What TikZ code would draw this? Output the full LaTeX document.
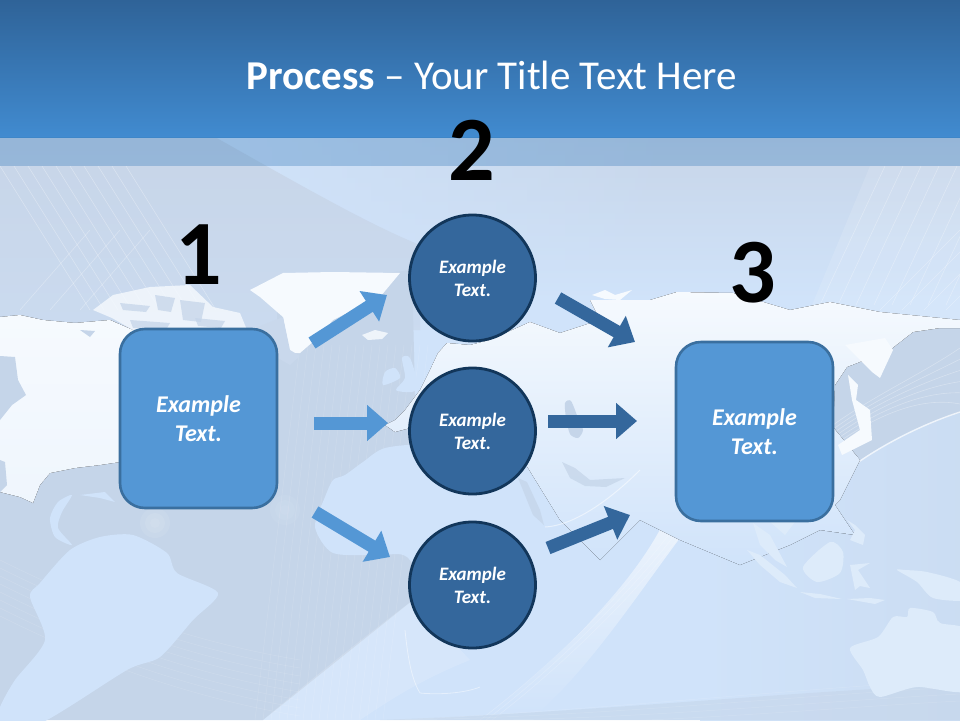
\documentclass[tikz,border=0pt]{standalone}
\usepackage{fontspec}
\setmainfont{Carlito}
\usetikzlibrary{arrows.meta,fadings}
\definecolor{headtop}{HTML}{2F6398}
\definecolor{headbot}{HTML}{418BD0}
\definecolor{boxfill}{HTML}{5497D5}
\definecolor{boxline}{HTML}{3A6F9F}
\definecolor{circfill}{HTML}{34679C}
\definecolor{circline}{HTML}{12365A}
\definecolor{sea}{HTML}{C5D5E9}
\definecolor{seaup}{HTML}{C7D5E8}
\definecolor{bgl}{HTML}{D0E3FA}
\definecolor{landb}{HTML}{D0E3FA}
\definecolor{landw}{HTML}{F6FAFE}
\definecolor{isl}{HTML}{DDEBFA}
\tikzset{
  boxnode/.style={draw=boxline,line width=2.6pt,fill=boxfill,rounded corners=25pt,minimum width=157pt,minimum height=179pt,inner sep=0pt,text=white,align=center,font=\fontsize{24}{29}\selectfont\bfseries\itshape},
  circnode/.style={draw=circline,line width=2.8pt,fill=circfill,circle,minimum size=126pt,inner sep=0pt,text=white,align=center,font=\fontsize{19}{23}\selectfont\bfseries\itshape},
  numnode/.style={text=black,inner sep=0pt,font=\fontsize{92}{92}\selectfont\bfseries},
  arrowlight/.style={draw=boxfill,line width=13pt,-{Triangle[length=21pt,width=35pt]}},
  arrowdark/.style={draw=circfill,line width=13pt,-{Triangle[length=21pt,width=35pt]}},
  ray/.style={draw=white,line width=0.6pt,opacity=0.3},
  fray/.style={draw=white,line width=0.5pt,opacity=0.14},
  inlet/.style={fill=sea},
  land/.style={smooth cycle,tension=0.45}
}
\begin{document}
\begin{tikzpicture}[x=1pt,y=-1pt]
\useasboundingbox (0,0) rectangle (960,720);
% background
\fill[bgl] (0,0) rectangle (960,720);
\shade[left color=bgl,right color=bgl!55!sea] (700,400) rectangle (960,720);
\shade[top color=seaup,bottom color=bgl] (215,137) rectangle (960,300);
\fill[bgl,path fading=east] (215,137) rectangle (680,300);
\shade[top color=seaup,bottom color=seaup!60!bgl] (0,137) -- (215,137) .. controls (300,185) and (370,225) .. (420,245) -- (420,330) -- (0,330) -- cycle;
\foreach \k in {0,14,...,126}{\draw[ray] (\k,166) -- (\k+90,310);}
\foreach \k in {0,30,60}{\draw[ray] (\k+20,310) -- (\k+90,230);}
\fill[white,opacity=.12] (810,310) -- (870,166) -- (960,166) -- (960,320) -- cycle;
\foreach \k in {0,18,...,126}{\draw[ray] (\k+820,305) -- (\k+885,166);}
\foreach \k in {0,22,...,66}{\draw[ray] (\k+880,310) -- (960,\k+230);}
% lower and Atlantic sea
\fill[sea] (0,440) -- (277,440) -- (277,285) -- (412,270) -- (420,600) -- (413,600) -- (263,720) -- (0,720) -- cycle;
\foreach \k in {0,8,...,128}{\draw[fray] (300+\k,345) -- (255+\k,720);}
\foreach \k in {0,8,...,56}{\draw[fray] (0,560+\k) .. controls (80,600+\k) and (180,640+\k) .. (300,660+\k);}
% east-Asia seas
\fill[sea] (833,340) -- (960,325) -- (960,412) .. controls (915,425) and (870,450) .. (833,480) -- cycle;
\foreach \k in {0,14,...,70}{\draw[ray] (833,425+\k*0.3) .. controls (875,395+\k*0.3) and (920,375+\k*0.3) .. (960,348+\k*0.8);}
\draw[white,line width=1.4pt,opacity=.7] (835,480) .. controls (870,450) and (920,425) .. (960,412);
% swooshes
\fill[white,opacity=0.6,path fading=south] (692,522) -- (664,522) .. controls (640,570) and (600,610) .. (590,622) .. controls (560,655) and (520,690) .. (478,720) -- (530,720) .. controls (590,670) and (640,590) .. (692,522) -- cycle;
\foreach \k in {0,6,12}{\draw[ray,opacity=.2] (480+\k,720) .. controls (540+\k,675) and (630+\k,590) .. (678+\k,522);}
\fill[white,opacity=.14] (413,600) .. controls (360,640) and (310,680) .. (263,720) -- (360,720) .. controls (390,700) and (420,680) .. (470,660) -- cycle;
\fill[sea,opacity=.55] (380,720) .. controls (600,712) and (800,690) .. (960,685) -- (960,720) -- cycle;
\foreach \k in {0,7,14,21}{\draw[fray] (400,720) .. controls (600,710+\k) and (800,688+\k) .. (960,680+\k);}
% North America
\fill[top color=landw,bottom color=landw!82!landb] (0,317) -- (20,315) -- (43,320) -- (75,323) -- (110,320) -- (133,330) -- (245,330) -- (255,345) -- (270,360) -- (270,470) -- (120,462) -- (100,465) -- (75,468) -- (50,473) -- (40,485) -- (33,503) -- (20,497) -- (0,492) -- cycle;
\fill[sea] (0,356) -- (15,357) -- (18,380) -- (26,395) -- (12,405) -- (0,420) -- cycle;
\fill[sea] (0,460) -- (5,462) -- (7,485) -- (0,492) -- cycle;
\fill[bgl] plot[land] coordinates {(58,502) (72,495) (62,512) (58,528) (72,545) (55,537) (50,518)};
\fill[bgl] (80,495) -- (105,492) -- (115,502) -- (100,498) -- cycle;
\fill[landw,opacity=.8] (93,310) -- (113,295) -- (150,287) -- (190,285) -- (213,307) -- (240,313) -- (247,330) -- (133,330) -- (112,318) -- cycle;
\foreach \a/\b/\c/\d in {120/303/150/312,155/295/175/312,180/300/205/322,130/320/170/330,195/318/225/328}{\fill[inlet,opacity=.75] (\a,\b) -- (\c,\b+3) -- (\c-4,\d) -- (\a+3,\d-2) -- cycle;}
\fill[landw] (250,290) -- (283,273) -- (333,272) -- (400,273) -- (380,297) -- (333,320) -- (315,340) -- (300,353) -- (290,353) -- (283,317) -- (260,297) -- cycle;
\fill[seaup!80!bgl] (250,330) -- (283,317) -- (290,350) -- (300,356) -- (290,365) -- (255,345) -- cycle;
\fill[landw,opacity=.85] (362,335) -- (375,330) -- (388,333) -- (382,339) -- (368,340) -- cycle;
\fill[sea] (80,330) -- (95,331) -- (90,337) -- cycle;
% South America
\fill[landb] plot[land] coordinates {(100,537) (70,550) (40,583) (30,597) (45,640) (15,680) (0,707) (-5,730) (43,722) (127,670) (160,657) (193,620) (218,593) (177,573) (167,553) (133,535)};
% Eurasia
\fill[top color=landw,bottom color=landb] (590,300) -- (650,300) -- (677,292) -- (733,293) -- (790,310) -- (830,302) -- (880,312) -- (940,318) -- (960,320) -- (960,328) -- (940,328) -- (913,332) -- (890,350) -- (883,352) -- (870,358) -- (847,367) -- (835,385) -- (833,427) -- (860,460) -- (840,500) -- (835,505) -- (855,535) -- (820,530) -- (790,545) -- (740,565) -- (680,540) -- (640,520) -- (600,560) -- (560,520) -- (520,455) -- (480,440) -- (410,428) -- (395,432) -- (385,425) -- (395,420) -- (405,410) -- (420,390) -- (430,370) -- (438,353) -- (447,343) -- (470,345) -- (490,340) -- (530,322) -- (560,333) -- (600,320) -- cycle;
% UK
\fill[landb] plot[land] coordinates {(385,372) (395,368) (400,378) (383,385)};
\fill[landb] plot[land] coordinates {(402,358) (410,358) (418,385) (412,392) (396,390) (405,378)};
% Africa
\fill[landb] plot[land] coordinates {(363,462) (345,475) (333,480) (325,497) (315,527) (333,553) (380,555) (407,557) (440,600) (480,560) (520,520) (500,460) (430,445) (385,448)};
\draw[white,opacity=.45,line width=.8pt] (405,630) .. controls (408,660) and (412,680) .. (420,693) .. controls (440,695) and (465,693) .. (480,687);
% inland seas and gulfs
\fill[sea] plot[land] coordinates {(565,403) (571,401) (578,418) (583,430) (578,438) (570,434) (566,418)};
\fill[sea,opacity=.75] (562,462) -- (575,468) -- (590,480) -- (625,478) -- (606,487) -- (585,486) -- (570,478) -- cycle;
\fill[sea,opacity=.75] (518,478) -- (527,482) -- (540,510) -- (544,525) -- (533,515) -- cycle;
\draw[white,opacity=.5,line width=1pt] (545,527) .. controls (580,525) and (620,490) .. (640,470);
% East Asia
\fill[landw] (592,295) -- (605,290) -- (615,295) -- (632,290) -- (620,300) -- (605,299) -- cycle;
\fill[landw] (845,345) -- (885,338) -- (893,350) -- (880,378) -- (872,372) -- cycle;
\fill[landw] (848,375) -- (858,385) -- (856,400) -- (870,410) -- (872,440) -- (842,455) -- (838,445) -- (860,430) -- (852,400) -- cycle;
\fill[isl] (747,550) -- (760,555) -- (785,575) -- (797,588) -- (780,582) -- (760,565) -- cycle;
\fill[isl] (753,523) -- (770,535) -- (787,567) -- (775,560) -- (760,545) -- cycle;
\fill[isl] (770,522) -- (795,522) -- (785,535) -- cycle;
\fill[isl] plot[land] coordinates {(803,567) (830,542) (843,552) (840,573) (817,582)};
\fill[isl] (800,592) -- (820,594) -- (842,599) -- (815,598) -- cycle;
\fill[isl] (847,599) -- (870,598) -- (885,600) -- (875,604) -- cycle;
\fill[isl] (847,520) -- (855,525) -- (865,535) -- (863,545) -- (850,540) -- (855,530) -- cycle;
\fill[isl] (850,565) -- (870,563) -- (858,570) -- (870,588) -- (860,586) -- (855,590) -- cycle;
\fill[isl] plot[land] coordinates {(897,570) (905,570) (927,572) (960,582) (965,600) (933,598) (917,582)};
\fill[isl] plot[land] coordinates {(850,648) (878,637) (893,617) (907,617) (910,608) (933,612) (940,623) (970,632) (970,690) (917,687) (880,697) (870,687) (863,670)};
% glows
\foreach \r in {5,10,15}{\fill[white,opacity=0.08] (155,523) circle (\r); \fill[white,opacity=0.05] (285,510) circle (\r);}
% header
\shade[top color=headtop,bottom color=headbot] (0,0) rectangle (960,137);
\fill[headbot!90!black,opacity=0.34] (0,137) rectangle (960,166);
\node[text=white,inner sep=0pt,font=\fontsize{41}{44}\selectfont] (title) at (492,75) {\textbf{Process} – Your Title Text Here};
% nodes
\node[boxnode] (box1) at (198.5,418.5) {Example\\Text.};
\node[boxnode] (box3) at (754.5,431.5) {Example\\Text.};
\node[circnode] (circ1) at (472.5,278) {Example\\Text.};
\node[circnode] (circ2) at (472.5,431) {Example\\Text.};
\node[circnode] (circ3) at (472.5,585) {Example\\Text.};
\node[numnode] (num1) at (199,255) {1};
\node[numnode] (num2) at (472,150) {2};
\node[numnode] (num3) at (753,273) {3};
% connector ends
\coordinate (a1s) at (312,343);
\coordinate (a1e) at (387,295);
\coordinate (a2s) at (314,423);
\coordinate (a2e) at (388,423);
\coordinate (a3s) at (315,512);
\coordinate (a3e) at (390,557);
\coordinate (b1s) at (558,298);
\coordinate (b1e) at (635,342);
\coordinate (b2s) at (548,421);
\coordinate (b2e) at (637,421);
\coordinate (b3s) at (548,548);
\coordinate (b3e) at (630,515);
\draw[arrowlight] (a1s) -- (a1e);
\draw[arrowlight] (a2s) -- (a2e);
\draw[arrowlight] (a3s) -- (a3e);
\draw[arrowdark] (b1s) -- (b1e);
\draw[arrowdark] (b2s) -- (b2e);
\draw[arrowdark] (b3s) -- (b3e);
\end{tikzpicture}
\end{document}
